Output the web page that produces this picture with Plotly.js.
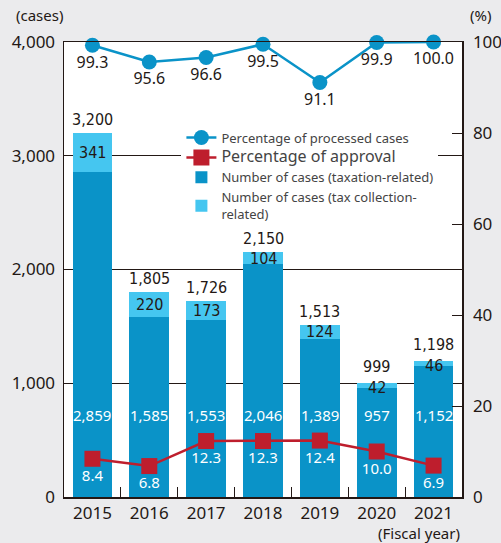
<!DOCTYPE html>
<html>
<head>
<meta charset="utf-8">
<script src="https://cdn.plot.ly/plotly-3.0.1.min.js"></script>
<style>html,body{margin:0;padding:0;background:#ebebed;}#chart{width:501px;height:543px;}</style>
</head>
<body>
<div id="chart"></div>
<script>
const years = ['2015', '2016', '2017', '2018', '2019', '2020', '2021'];
const taxation = [2859, 1585, 1553, 2046, 1389, 957, 1152];
const collection = [341, 220, 173, 104, 124, 42, 46];
const totals = [3200, 1805, 1726, 2150, 1513, 999, 1198];
const processed = [99.3, 95.6, 96.6, 99.5, 91.1, 99.9, 100.0];
const approval = [8.4, 6.8, 12.3, 12.3, 12.4, 10.0, 6.9];
const leftTicks = [0, 1000, 2000, 3000, 4000];
const rightTicks = [0, 20, 40, 60, 80, 100];

const DARK = '#231815';
const BLUE = '#0a93c8';
const LIGHT = '#45c6f0';
const RED = '#be1e2d';
const FONT = 'Noto Sans, Open Sans, sans-serif';
const NARROW = 'Liberation Sans Narrow, DejaVu Sans Condensed, sans-serif';
const fmt = v => v.toLocaleString('en-US');

const traces = [
  {
    type: 'bar', x: years, y: taxation, name: 'Number of cases (taxation-related)',
    marker: {color: BLUE}, legendrank: 3, hoverinfo: 'skip'
  },
  {
    type: 'bar', x: years, y: collection, name: 'Number of cases (tax collection-<br>related)',
    marker: {color: LIGHT}, legendrank: 4, hoverinfo: 'skip'
  },
  {
    type: 'scatter', mode: 'lines+markers+text', x: years, y: processed, yaxis: 'y2',
    name: 'Percentage of processed cases', legendrank: 1,
    line: {color: BLUE, width: 2.5}, marker: {color: BLUE, size: 15, symbol: 'circle'},
    text: processed.map(v => v.toFixed(1)), textposition: 'bottom center',
    textfont: {family: FONT, size: 16, color: DARK}, cliponaxis: false
  },
  {
    type: 'scatter', mode: 'lines+markers+text', x: years, y: approval, yaxis: 'y2',
    name: '<span style="font-size:16px">Percentage of approval</span>', legendrank: 2,
    line: {color: RED, width: 2.5}, marker: {color: RED, size: 16, symbol: 'square'},
    text: approval.map(v => v.toFixed(1)), textposition: 'bottom center',
    textfont: {family: FONT, size: 15, color: '#ffffff'}, cliponaxis: false
  }
];

const annotations = [];
years.forEach((yr, i) => {
  const thin = collection[i] < 60;
  annotations.push({
    x: i, y: 725, xref: 'x', yref: 'y', text: fmt(taxation[i]), showarrow: false,
    font: {family: FONT, size: 15, color: '#ffffff'}
  });
  annotations.push({
    x: i, y: taxation[i] + collection[i] / 2, xref: 'x', yref: 'y', text: fmt(collection[i]),
    showarrow: false, yshift: thin ? -2 : 0, font: {family: NARROW, size: 16, color: DARK}
  });
  annotations.push({
    x: i, y: totals[i], xref: 'x', yref: 'y', text: fmt(totals[i]), showarrow: false,
    yanchor: 'bottom', yshift: thin ? 5 : 2, font: {family: NARROW, size: 16, color: DARK}
  });
});
annotations.push({text: '(cases)', xref: 'paper', yref: 'paper', x: 0, y: 1, xanchor: 'right', yanchor: 'bottom',
  xshift: 1, yshift: 15, showarrow: false, font: {family: FONT, size: 15, color: DARK}});
annotations.push({text: '(%)', xref: 'paper', yref: 'paper', x: 1, y: 1, xanchor: 'left', yanchor: 'bottom',
  xshift: 6, yshift: 15, showarrow: false, font: {family: FONT, size: 15, color: DARK}});
annotations.push({text: '(Fiscal year)', xref: 'paper', yref: 'paper', x: 1, y: 0, xanchor: 'right', yanchor: 'top',
  yshift: -24, showarrow: false, font: {family: FONT, size: 15, color: DARK}});

const layout = {
  width: 501, height: 543,
  margin: {l: 64, r: 39, t: 42, b: 46},
  paper_bgcolor: '#ebebed', plot_bgcolor: '#ffffff',
  barmode: 'stack', bargap: 0.3,
  showlegend: true,
  legend: {
    x: 0.295, y: 0.823, xanchor: 'left', yanchor: 'top', bgcolor: '#ffffff',
    font: {family: FONT, size: 13, color: '#444'}, tracegroupgap: 0, itemwidth: 30,
    traceorder: 'normal'
  },
  xaxis: {
    type: 'category', range: [-0.5, years.length - 0.5], autorange: false,
    tickson: 'boundaries', ticks: 'inside', ticklen: 10, tickcolor: DARK,
    showline: true, linecolor: DARK, linewidth: 1.5, mirror: true, showgrid: false,
    tickangle: 0, tickfont: {family: FONT, size: 17, color: DARK}, fixedrange: true
  },
  yaxis: {
    range: [0, 4000], autorange: false, tickvals: leftTicks, ticktext: leftTicks.map(fmt),
    showgrid: true, gridcolor: DARK, gridwidth: 1, zeroline: false,
    showline: true, linecolor: DARK, linewidth: 1.5, ticks: '',
    tickfont: {family: FONT, size: 17, color: DARK}, ticklabelstandoff: 4
  },
  yaxis2: {
    overlaying: 'y', side: 'right', range: [0, 100], autorange: false, tickvals: rightTicks,
    showgrid: false, zeroline: false, showline: true, linecolor: DARK, linewidth: 1.5,
    ticks: 'inside', ticklen: 10, tickcolor: DARK,
    tickfont: {family: FONT, size: 17, color: DARK}, ticklabelstandoff: 6
  },
  annotations: annotations,
  font: {family: FONT, color: DARK}
};

Plotly.newPlot('chart', traces, layout, {displayModeBar: false, staticPlot: true});
</script>
</body>
</html>
